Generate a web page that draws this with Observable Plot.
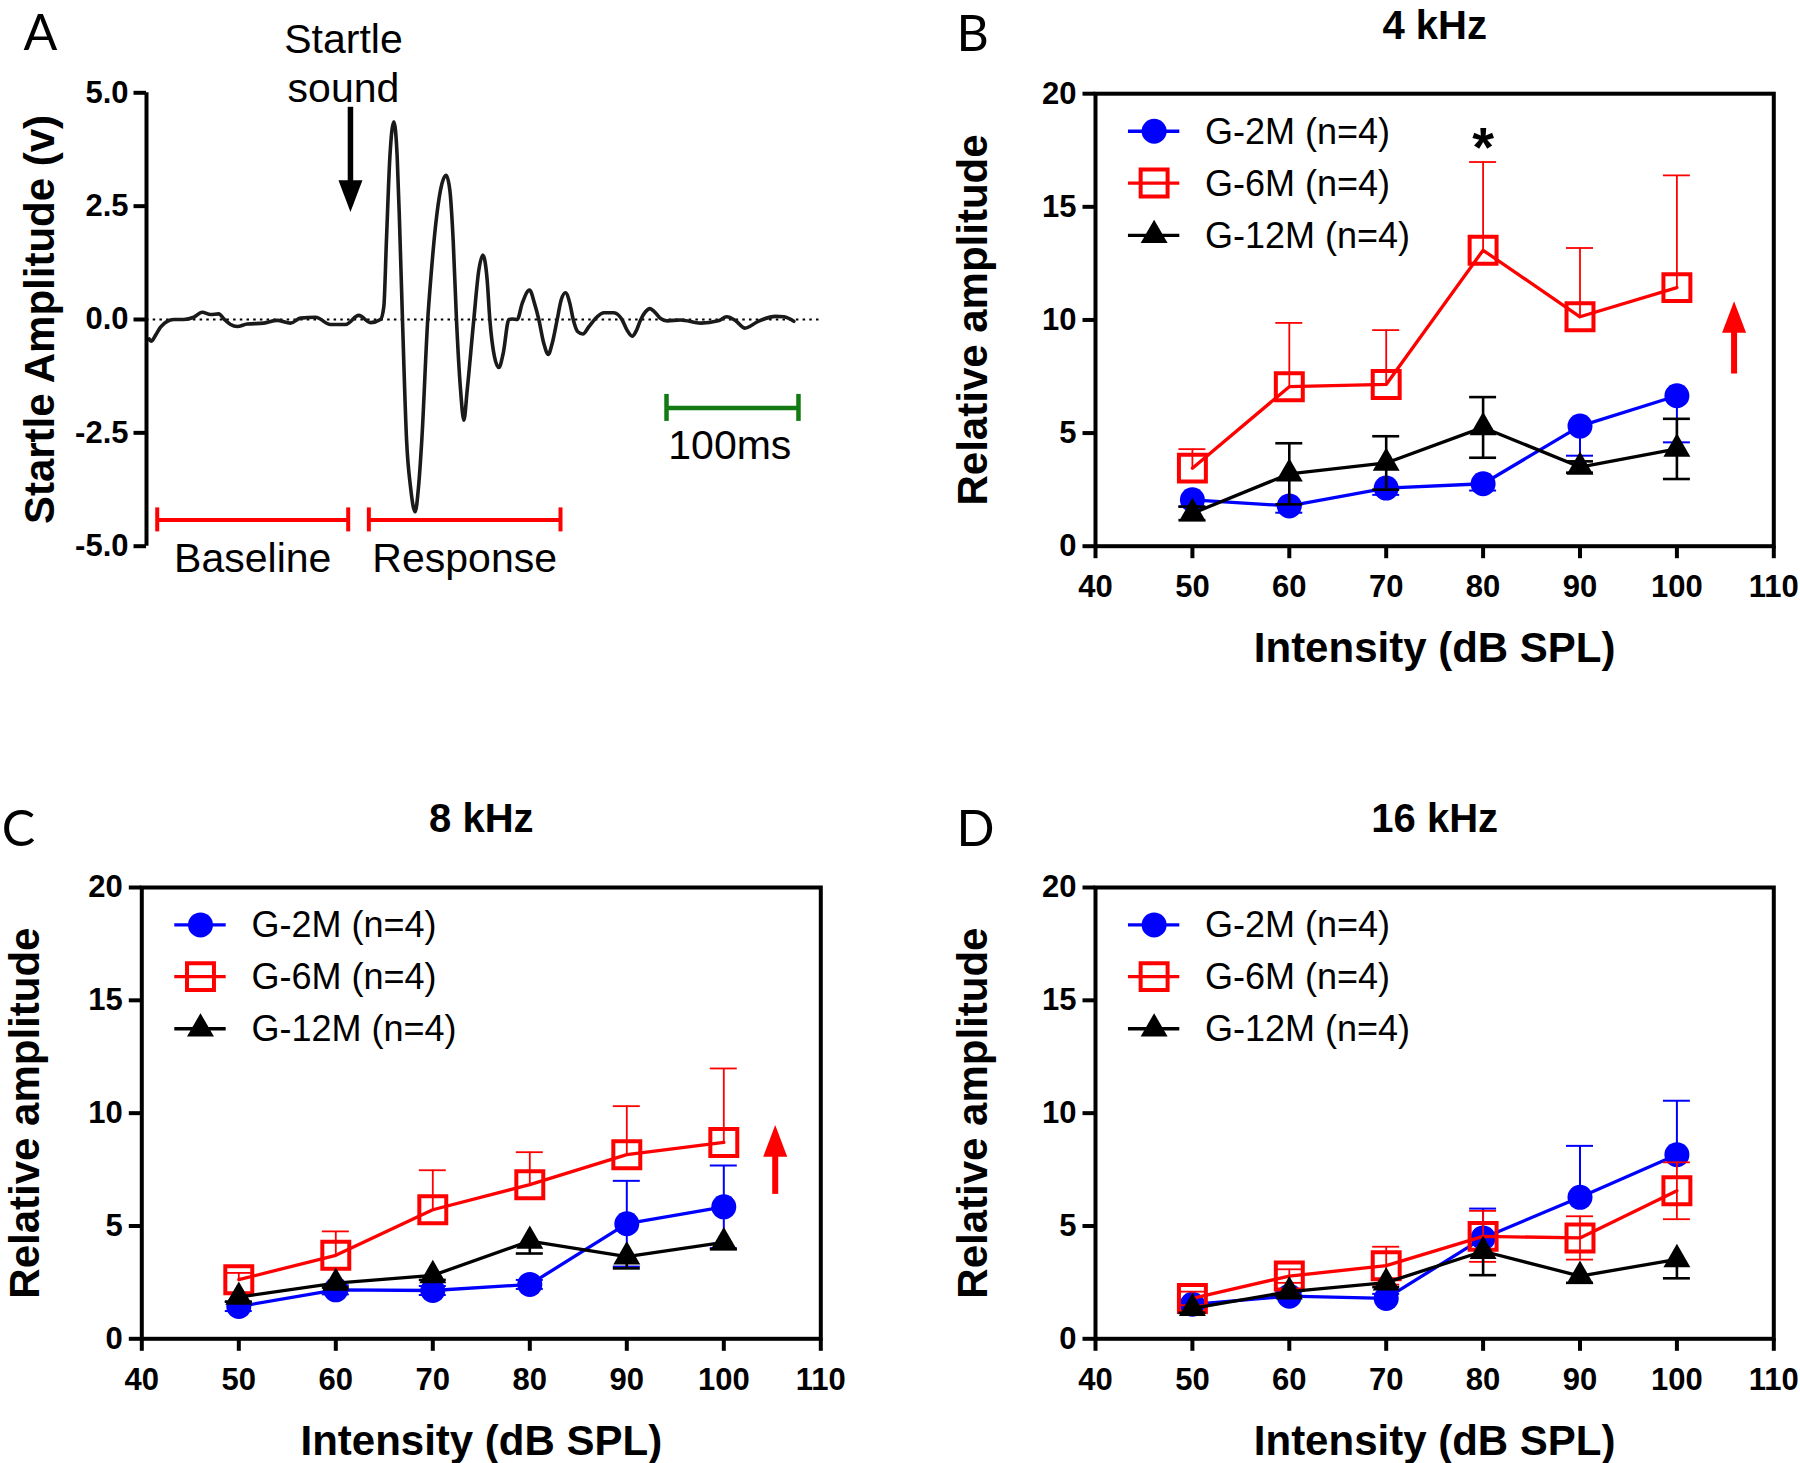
<!DOCTYPE html>
<html>
<head>
<meta charset="utf-8">
<script src="https://cdn.jsdelivr.net/npm/d3@7"></script>
<script src="https://cdn.jsdelivr.net/npm/@observablehq/plot@0.6"></script>
<style>
  html, body { margin: 0; padding: 0; background: #fff; }
  #wrap { position: relative; width: 1800px; height: 1463px; background: #fff; overflow: hidden; }
  #wrap > svg { position: absolute; overflow: visible; }
</style>
</head>
<body>
<div id="wrap"></div>
<script>
// ---------------- Panel A: startle trace ----------------
const traceT = [2, 3.5, 6.8, 10.6, 15.6, 20.6, 28.2, 35.7, 42.1, 48.4, 54.6, 58.4, 63.5, 68.5, 76.1, 88.6, 98.7, 108.8, 116.4, 127.7, 139, 150.4, 160.4, 169.2, 176.8, 179.3, 181.3, 183.9, 186.9, 189.4, 191.2, 193.4, 196.5, 199.5, 203.0, 205.5, 208.0, 212.5, 214.9, 218.6, 222.1, 226.4, 229.2, 231.7, 234.2, 237.3, 239.8, 242.3, 247.3, 251.1, 254.1, 257.4, 259.4, 262.9, 266.2, 269.5, 273.8, 276.3, 280.1, 283.8, 289.4, 293.2, 296.4, 300.2, 303.5, 306.5, 310.3, 313.3, 316.6, 319.9, 322.4, 325.9, 329.7, 334.2, 340.5, 345.6, 353.1, 359.4, 363.2, 367.0, 370.2, 373.3, 377.0, 380.3, 383.8, 388.4, 393.4, 403.5, 418.8, 431.9, 438.4, 444.9, 452.2, 462.2, 475.3, 481.7, 489.1];
const traceV = [-0.43, -0.48, -0.35, -0.17, -0.04, 0, 0, 0.05, 0.16, 0.11, 0.125, 0.015, -0.11, -0.155, -0.1, -0.08, -0.02, -0.08, 0.03, 0.05, -0.11, -0.11, 0.09, -0.07, 0, 0.28, 1.75, 3.59, 4.36, 3.59, 2.12, 0, -2.66, -3.7, -4.24, -3.7, -2.66, 0, 0.94, 2.12, 2.85, 3.18, 2.85, 1.75, 0, -1.56, -2.22, -1.56, 0, 1.09, 1.42, 0.87, 0, -0.82, -1.06, -0.75, 0, 0.01, 0, 0.35, 0.65, 0.35, 0, -0.53, -0.77, -0.53, 0, 0.43, 0.59, 0.35, 0, -0.27, -0.32, -0.16, 0.06, 0.15, 0.15, -0.01, -0.24, -0.37, -0.24, -0.01, 0.17, 0.24, 0.17, 0.02, -0.03, -0.01, -0.08, -0.03, 0.06, -0.02, -0.19, -0.04, 0.07, 0.06, -0.04];
const aTicks = [-5, -2.5, 0, 2.5, 5];
const windowNames = ["Baseline", "Response"];
const windowStart = [8.1, 168];
const windowEnd = [152.4, 312.8];
const windowLevel = -4.42;
const scaleBarStart = 392.9;
const scaleBarEnd = 492.6;
const scaleBarLevel = -1.95;
const stimTime = 154.1;
const stimArrowTop = 4.68;
const stimArrowTip = 2.37;

// ---------------- Panels B-D: intensity curves ----------------
const intensity = [50, 60, 70, 80, 90, 100];
const xTicks = [40, 50, 60, 70, 80, 90, 100, 110];
const yTicks = [0, 5, 10, 15, 20];
const groups = ["G-2M (n=4)", "G-6M (n=4)", "G-12M (n=4)"];

// 4 kHz
const k4_2M = [2.05, 1.78, 2.57, 2.76, 5.31, 6.65];
const k4_2Msem = [0.3, 0.3, 0.3, 0.3, 1.31, 2.06];
const k4_6M = [3.45, 7.05, 7.15, 13.08, 10.14, 11.43];
const k4_6Msem = [0.84, 2.82, 2.4, 3.9, 3.04, 4.96];
const k4_12M = [1.45, 3.2, 3.68, 5.25, 3.5, 4.3];
const k4_12Msem = [0.3, 1.35, 1.18, 1.34, 0.25, 1.33];
const k4_dir = ["down", "up", "both"];

// 8 kHz
const k8_2M = [1.43, 2.17, 2.14, 2.41, 5.1, 5.85];
const k8_2Msem = [0.2, 0.2, 0.2, 0.2, 1.9, 1.83];
const k8_6M = [2.62, 3.7, 5.72, 6.83, 8.16, 8.7];
const k8_6Msem = [0.3, 1.06, 1.75, 1.44, 2.15, 3.28];
const k8_12M = [1.85, 2.47, 2.81, 4.33, 3.64, 4.27];
const k8_12Msem = [0.2, 0.2, 0.2, 0.55, 0.52, 0.3];
const k8_dir = ["both", "up", "down"];

// 16 kHz
const k16_2M = [1.53, 1.89, 1.79, 4.47, 6.27, 8.16];
const k16_2Msem = [0.2, 0.2, 0.2, 1.3, 2.28, 2.39];
const k16_6M = [1.79, 2.78, 3.24, 4.54, 4.47, 6.56];
const k16_6Msem = [0.3, 0.3, 0.84, 1.13, 0.96, 1.26];
const k16_12M = [1.35, 2.09, 2.49, 3.88, 2.78, 3.52];
const k16_12Msem = [0.2, 0.2, 0.2, 1.06, 0.3, 0.84];
const k16_dir = ["up", "both", "down"];

// annotations
const starB = {x: 80, y: 18.23};
const arrowB = {x: 105.9, base: 7.61, tip: 10.83};
const arrowC = {x: 105.3, base: 6.4, tip: 9.47};

// ---------------- drawing ----------------
const FONT = "'Liberation Sans', Arial, Helvetica, sans-serif";
const LETTER_FONT = "Lato, 'Open Sans', 'DejaVu Sans', sans-serif";
const wrap = document.getElementById("wrap");
function place(svg, left, top) {
  svg.style.left = left + "px";
  svg.style.top = top + "px";
  wrap.appendChild(svg);
}

// arrow head symbol: tip at origin, base below (points up)
const headUp = {
  draw(ctx, size) {
    const r = Math.sqrt(size / Math.PI);
    const w = r, h = 2.64 * r;
    ctx.moveTo(0, 0);
    ctx.lineTo(w, h);
    ctx.lineTo(-w, h);
    ctx.closePath();
  }
};

// ---- Panel A ----
const trace = traceT.map((t, i) => ({t, v: traceV[i]}));
const windows = windowNames.map((name, i) => ({name, start: windowStart[i], end: windowEnd[i], mid: (windowStart[i] + windowEnd[i]) / 2}));
const aPxPerUnit = 453.4 / 10;
const redCap = 12 / aPxPerUnit, greenCap = 13.5 / aPxPerUnit;
const windowCaps = windows.flatMap(w => [w.start, w.end]);

const plotA = Plot.plot({
  width: 900, height: 600,
  marginLeft: 146, marginRight: 79, marginTop: 92.3, marginBottom: 54.3,
  style: {fontFamily: FONT, background: "transparent", color: "black", overflow: "visible"},
  x: {domain: [0, 510], axis: null},
  y: {domain: [-5, 5]},
  marks: [
    Plot.ruleY([0], {stroke: "#000", strokeWidth: 2.2, strokeDasharray: "2.5,4.2"}),
    Plot.line(trace, {x: "t", y: "v", curve: "monotone-x", stroke: "#1a1a1a", strokeWidth: 3.6}),
    Plot.ruleX([0], {y1: -5, y2: 5, stroke: "#000", strokeWidth: 4}),
    Plot.axisY({ticks: aTicks, tickFormat: d => d.toFixed(1), tickSize: 12.5, tickPadding: 5.5,
      fontSize: 31, fontWeight: "bold", strokeWidth: 4, label: null}),
    Plot.text(["Startle Amplitude (v)"], {frameAnchor: "left", rotate: -90, dx: -106, textAnchor: "middle", lineAnchor: "middle", fontSize: 42, fontWeight: "bold"}),
    // windows
    Plot.ruleY(windows, {y: windowLevel, x1: "start", x2: "end", stroke: "#ff0000", strokeWidth: 4}),
    Plot.ruleX(windowCaps, {x: d => d, y1: windowLevel - redCap, y2: windowLevel + redCap, stroke: "#ff0000", strokeWidth: 4}),
    Plot.text(windows, {x: "mid", y: -4.93, text: "name", lineAnchor: "top", fontSize: 41}),
    // scale bar
    Plot.ruleY([scaleBarLevel], {x1: scaleBarStart, x2: scaleBarEnd, stroke: "#137a13", strokeWidth: 4.5}),
    Plot.ruleX([scaleBarStart, scaleBarEnd], {y1: scaleBarLevel - greenCap, y2: scaleBarLevel + greenCap, stroke: "#137a13", strokeWidth: 4.5}),
    Plot.text([(scaleBarEnd - scaleBarStart).toFixed(0) + "ms"], {x: (scaleBarStart + scaleBarEnd) / 2 - 2, y: -2.44, lineAnchor: "top", fontSize: 41}),
    // stimulus arrow
    Plot.ruleX([stimTime], {y1: stimArrowTop, y2: stimArrowTip + 0.6, stroke: "#000", strokeWidth: 5.5}),
    Plot.dot([stimTime], {x: d => d, y: stimArrowTip, symbol: headUp, r: 12, rotate: 180, fill: "#000", stroke: "none"}),
    Plot.text(["Startle\nsound"], {x: 148.8, y: 6.63, lineAnchor: "top", lineHeight: 1.185, fontSize: 41}),
    Plot.text(["A"], {frameAnchor: "top-left", textAnchor: "start", lineAnchor: "top", dx: -123, dy: -78.5, fontSize: 50, fontFamily: LETTER_FONT})
  ]
});
place(plotA, 0, 0);

// ---- Panels B, C, D ----
const styles = [
  {color: "#0000ff", symbol: "circle", r: 12.5, fill: "#0000ff", stroke: "none", symStroke: 0, errWidth: 2},
  {color: "#ff0000", symbol: "square", r: 15.2, fill: "none", stroke: "#ff0000", symStroke: 4, errWidth: 1.8},
  {color: "#000000", symbol: "triangle", r: 10, fill: "#000000", stroke: "none", symStroke: 0, errWidth: 2.6}
];
const capHalf = 13.5 / 9.7;
const legendY = [18.34, 16.05, 13.74];

function panel(cfg) {
  const marks = [Plot.frame({stroke: "#000", strokeWidth: 4})];
  cfg.series.forEach((s, si) => {
    const st = styles[si];
    const d = intensity.map((x, i) => {
      const y = s.mean[i], e = s.sem[i];
      return {x, y, lo: s.dir === "up" ? y : y - e, hi: s.dir === "down" ? y : y + e};
    });
    const caps = [];
    d.forEach(r => {
      if (s.dir !== "down") caps.push({x: r.x, y: r.hi});
      if (s.dir !== "up") caps.push({x: r.x, y: r.lo});
    });
    marks.push(
      Plot.ruleX(d, {x: "x", y1: "lo", y2: "hi", stroke: st.color, strokeWidth: st.errWidth}),
      Plot.ruleY(caps, {y: "y", x1: r => r.x - capHalf, x2: r => r.x + capHalf, stroke: st.color, strokeWidth: st.errWidth}),
      Plot.line(d, {x: "x", y: "y", stroke: st.color, strokeWidth: 3.3}),
      Plot.dot(d, {x: "x", y: "y", symbol: st.symbol, r: st.r, fill: st.fill, stroke: st.stroke, strokeWidth: st.symStroke})
    );
  });
  // legend
  const leg = groups.map((g, i) => ({g, y: legendY[i], i}));
  leg.forEach(l => {
    const st = styles[l.i];
    marks.push(
      Plot.ruleY([l], {y: "y", x1: 43.4, x2: 48.7, stroke: st.color, strokeWidth: 3.3}),
      Plot.dot([l], {x: 46.05, y: "y", symbol: st.symbol, r: st.r, fill: st.fill, stroke: st.stroke, strokeWidth: st.symStroke}),
      Plot.text([l], {x: 51.3, y: "y", text: "g", textAnchor: "start", lineAnchor: "middle", dy: 1, fontSize: 36})
    );
  });
  if (cfg.star) marks.push(Plot.text([cfg.star], {x: "x", y: "y", text: () => "*", fontSize: 56, fontWeight: "bold", dy: 14}));
  if (cfg.arrow) marks.push(
    Plot.ruleX([cfg.arrow], {x: "x", y1: "base", y2: d => d.tip - 1.2, stroke: "#ff0000", strokeWidth: 6}),
    Plot.dot([cfg.arrow], {x: "x", y: "tip", symbol: headUp, r: 12, fill: "#ff0000", stroke: "none"})
  );
  marks.push(
    Plot.axisX({ticks: xTicks, tickFormat: d => String(d), tickSize: 12.5, tickPadding: 16.5,
      fontSize: 31, fontWeight: "bold", strokeWidth: 4, label: null}),
    Plot.axisY({ticks: yTicks, tickFormat: d => String(d), tickSize: 12.5, tickPadding: 6.5,
      fontSize: 31, fontWeight: "bold", strokeWidth: 4, label: null}),
    Plot.text(["Intensity (dB SPL)"], {frameAnchor: "bottom", lineAnchor: "top", dy: 86, fontSize: 42, fontWeight: "bold"}),
    Plot.text(["Relative amplitude"], {frameAnchor: "left", rotate: -90, dx: cfg.yTitleDx, textAnchor: "middle", lineAnchor: "middle", fontSize: 42, fontWeight: "bold"}),
    Plot.text([cfg.title], {frameAnchor: "top", lineAnchor: "top", dy: cfg.titleDy, fontSize: 40, fontWeight: "bold"}),
    Plot.text([cfg.letter], {frameAnchor: "top-left", textAnchor: "start", lineAnchor: "top", dx: cfg.letterDx, dy: cfg.letterDy, fontSize: 50, fontFamily: LETTER_FONT})
  );
  const svg = Plot.plot({
    width: 900, height: cfg.height,
    marginLeft: cfg.mL, marginRight: cfg.mR, marginTop: cfg.mT, marginBottom: cfg.mB,
    style: {fontFamily: FONT, background: "transparent", color: "black", overflow: "visible"},
    x: {domain: [40, 110]},
    y: {domain: [0, 20]},
    marks
  });
  place(svg, cfg.left, cfg.top);
}

panel({
  title: "4 kHz", letter: "B", left: 900, top: 0, height: 730,
  mL: 195, mR: 26.7, mT: 93.2, mB: 184.3, titleDy: -82.8, letterDx: -139, letterDy: -78, yTitleDx: -122,
  series: [
    {mean: k4_2M, sem: k4_2Msem, dir: k4_dir[0]},
    {mean: k4_6M, sem: k4_6Msem, dir: k4_dir[1]},
    {mean: k4_12M, sem: k4_12Msem, dir: k4_dir[2]}
  ],
  star: starB, arrow: arrowB
});
panel({
  title: "8 kHz", letter: "C", left: 0, top: 730, height: 733,
  mL: 141.3, mR: 79.7, mT: 157, mB: 124.7, titleDy: -84, letterDx: -140, letterDy: -77, yTitleDx: -116,
  series: [
    {mean: k8_2M, sem: k8_2Msem, dir: k8_dir[0]},
    {mean: k8_6M, sem: k8_6Msem, dir: k8_dir[1]},
    {mean: k8_12M, sem: k8_12Msem, dir: k8_dir[2]}
  ],
  arrow: arrowC
});
panel({
  title: "16 kHz", letter: "D", left: 900, top: 730, height: 733,
  mL: 195, mR: 26.7, mT: 157, mB: 124.7, titleDy: -84, letterDx: -139, letterDy: -77, yTitleDx: -122,
  series: [
    {mean: k16_2M, sem: k16_2Msem, dir: k16_dir[0]},
    {mean: k16_6M, sem: k16_6Msem, dir: k16_dir[1]},
    {mean: k16_12M, sem: k16_12Msem, dir: k16_dir[2]}
  ]
});
</script>
</body>
</html>
